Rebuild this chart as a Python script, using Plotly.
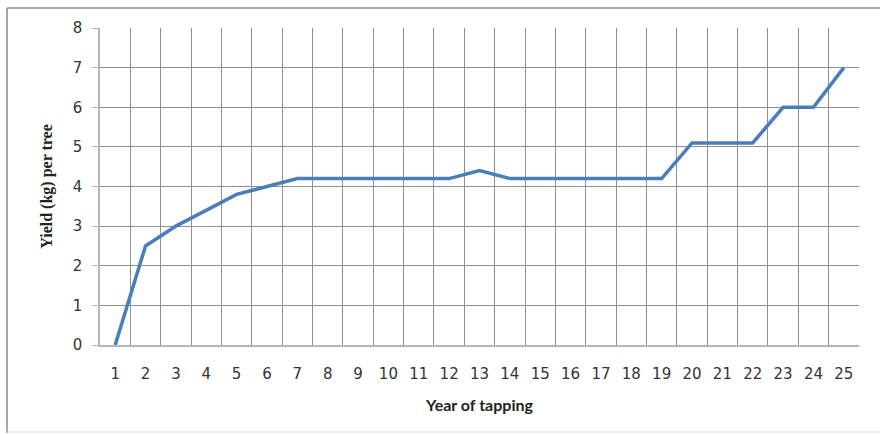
import plotly.graph_objects as go

# Year of tapping and yield per tree (kg)
years = list(range(1, 26))
yields = [0.0, 2.5, 3.0, 3.4, 3.8, 4.0, 4.2, 4.2, 4.2, 4.2, 4.2, 4.2, 4.4,
          4.2, 4.2, 4.2, 4.2, 4.2, 4.2, 5.1, 5.1, 5.1, 6.0, 6.0, 7.0]
x_tick_labels = [str(y) for y in years]
y_ticks = list(range(0, 9))

W, H = 880, 434
L, R, T, B = 100, 21, 28, 89
pw, ph = W - L - R, H - T - B


def px_x(p):
    return (p - L) / pw


def px_y(p):
    return (H - B - p) / ph


grid_col = "#8f8f8f"
axis_col = "#b5b5b5"

fig = go.Figure()
fig.add_trace(go.Scatter(
    x=years, y=yields, mode="lines",
    line=dict(color="#4A7EBB", width=3.5),
    showlegend=False, hoverinfo="skip",
))

fig.update_layout(
    width=W, height=H,
    margin=dict(l=L, r=R, t=T, b=B),
    paper_bgcolor="white", plot_bgcolor="white",
    xaxis=dict(
        range=[0.5, 25.5],
        tickmode="array", tickvals=years, ticktext=x_tick_labels,
        ticks="", showgrid=False, zeroline=False,
        showline=True, linecolor=axis_col, linewidth=2,
        ticklabelstandoff=14,
        tickfont=dict(family="DejaVu Sans", size=15, color="#333333"),
        minor=dict(tick0=0.5, dtick=1, showgrid=True,
                   gridcolor=grid_col, gridwidth=1, ticks=""),
        title=dict(text="<b>Year of tapping</b>",
                   font=dict(family="Lato", size=16, color="#222222"),
                   standoff=18),
    ),
    yaxis=dict(
        range=[0, 8], tickmode="array", tickvals=y_ticks,
        ticks="outside", ticklen=6, tickcolor=axis_col, tickwidth=1,
        showgrid=True, gridcolor=grid_col, gridwidth=1,
        zeroline=False, showline=True, linecolor=axis_col, linewidth=1.5,
        ticklabelstandoff=7,
        tickfont=dict(family="DejaVu Sans", size=15, color="#333333"),
        title=dict(text="<b>Yield (kg) per tree</b>",
                   font=dict(family="Liberation Serif", size=16, color="#222222"),
                   standoff=16),
    ),
)

# Outer frame around the chart
fig.add_shape(type="line", xref="paper", yref="paper",
              x0=px_x(7), x1=px_x(882), y0=px_y(8), y1=px_y(8),
              line=dict(color="#8a8a8a", width=1.5))
fig.add_shape(type="line", xref="paper", yref="paper",
              x0=px_x(7), x1=px_x(7), y0=px_y(8), y1=px_y(433),
              line=dict(color="#8a8a8a", width=1.5))
fig.add_shape(type="line", xref="paper", yref="paper",
              x0=px_x(7), x1=px_x(882), y0=px_y(432), y1=px_y(432),
              line=dict(color="#e0e0e0", width=1))

fig.write_html("out.html")
